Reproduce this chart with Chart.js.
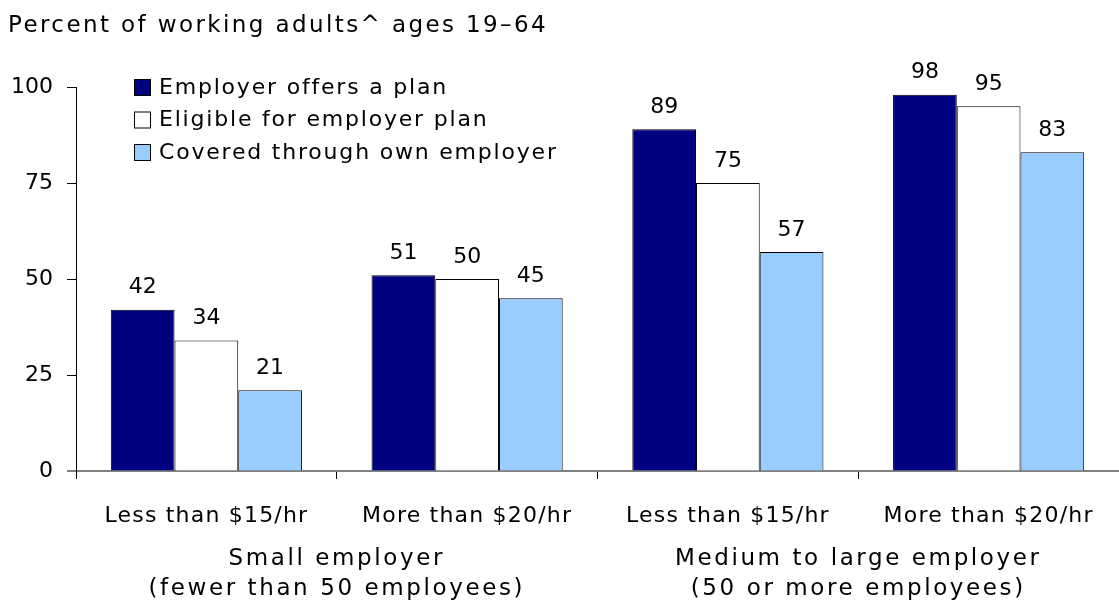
<!DOCTYPE html>
<html>
<head>
<meta charset="utf-8">
<script src="https://cdn.jsdelivr.net/npm/chart.js@4.4.1/dist/chart.umd.min.js"></script>
<style>
  body { margin: 0; background: #fff; }
  #wrap { width: 1119px; height: 610px; }
</style>
</head>
<body>
<div id="wrap"><canvas id="planChart" width="1119" height="610"></canvas></div>
<script>
const categories = ['Less than $15/hr', 'More than $20/hr', 'Less than $15/hr', 'More than $20/hr'];
const groups = [
  ['Small employer', '(fewer than 50 employees)'],
  ['Medium to large employer', '(50 or more employees)']
];
const offersPlan = [42, 51, 89, 98];
const eligible = [34, 50, 75, 95];
const covered = [21, 45, 57, 83];
const yTicks = [0, 25, 50, 75, 100];

const FONT = '"DejaVu Sans", Verdana, sans-serif';

// title, legend, bar values, category and group labels
const extras = {
  id: 'extras',
  afterDraw(chart) {
    const ctx = chart.ctx;
    const x = chart.scales.x;
    const area = chart.chartArea;
    ctx.save();
    ctx.fillStyle = '#000';
    ctx.textBaseline = 'middle';
    ctx.textAlign = 'left';
    ctx.font = '23px ' + FONT;
    ctx.letterSpacing = '2.4px';
    ctx.fillText('Percent of working adults^ ages 19\u201364', 8, 26);

    // legend
    ctx.font = '22px ' + FONT;
    ctx.letterSpacing = '1.8px';
    chart.data.datasets.forEach((ds, i) => {
      const y = 87 + i * 32.5;
      ctx.fillStyle = ds.backgroundColor;
      ctx.fillRect(134, y - 8, 17, 17);
      ctx.strokeStyle = '#000';
      ctx.lineWidth = 1;
      ctx.strokeRect(134.5, y - 7.5, 16, 16);
      ctx.fillStyle = '#000';
      ctx.fillText(ds.label, 159, y + 1);
    });

    // values above bars
    ctx.textAlign = 'center';
    ctx.letterSpacing = '0px';
    chart.data.datasets.forEach((ds, i) => {
      chart.getDatasetMeta(i).data.forEach((bar, j) => {
        ctx.fillText(String(ds.data[j]), bar.x, bar.y - 22);
      });
    });

    // category labels
    ctx.letterSpacing = '1.2px';
    categories.forEach((c, j) => {
      ctx.fillText(c, x.getPixelForValue(j), area.bottom + 45);
    });

    // group labels
    ctx.font = '23px ' + FONT;
    ctx.letterSpacing = '2.6px';
    groups.forEach((g, k) => {
      const cx = (x.getPixelForValue(k * 2) + x.getPixelForValue(k * 2 + 1)) / 2;
      ctx.fillText(g[0], cx, area.bottom + 88);
      ctx.fillText(g[1], cx, area.bottom + 118);
    });

    // axis line runs a little past the y axis
    ctx.strokeStyle = '#808080';
    ctx.lineWidth = 2;
    ctx.beginPath();
    ctx.moveTo(area.left - 9, area.bottom);
    ctx.lineTo(area.left, area.bottom);
    ctx.stroke();
    ctx.restore();
  }
};

new Chart(document.getElementById('planChart'), {
  type: 'bar',
  data: {
    labels: categories,
    datasets: [
      { label: 'Employer offers a plan', data: offersPlan, backgroundColor: '#000080', borderColor: '#000', borderWidth: 1 },
      { label: 'Eligible for employer plan', data: eligible, backgroundColor: '#ffffff', borderColor: '#000', borderWidth: 1 },
      { label: 'Covered through own employer', data: covered, backgroundColor: '#99ccff', borderColor: '#000', borderWidth: 1 }
    ]
  },
  options: {
    responsive: false,
    animation: false,
    layout: { padding: { top: 87, right: 0, left: 0, bottom: 0 } },
    datasets: { bar: { categoryPercentage: 0.733, barPercentage: 1 } },
    plugins: { legend: { display: false }, tooltip: { enabled: false } },
    scales: {
      x: {
        grid: { offset: true, drawOnChartArea: false, tickLength: 8, color: '#000' },
        border: { color: '#808080', width: 2 },
        ticks: { display: false },
        afterFit(scale) { scale.height = 139; }
      },
      y: {
        min: 0,
        max: 100,
        afterBuildTicks(scale) { scale.ticks = yTicks.map(v => ({ value: v })); },
        grid: { drawOnChartArea: false, tickLength: 9, color: '#000' },
        border: { color: '#000', width: 1 },
        ticks: { color: '#000', font: { family: FONT, size: 22 }, padding: 14 },
        afterFit(scale) { scale.width = 76; }
      }
    }
  },
  plugins: [extras]
});
</script>
</body>
</html>
